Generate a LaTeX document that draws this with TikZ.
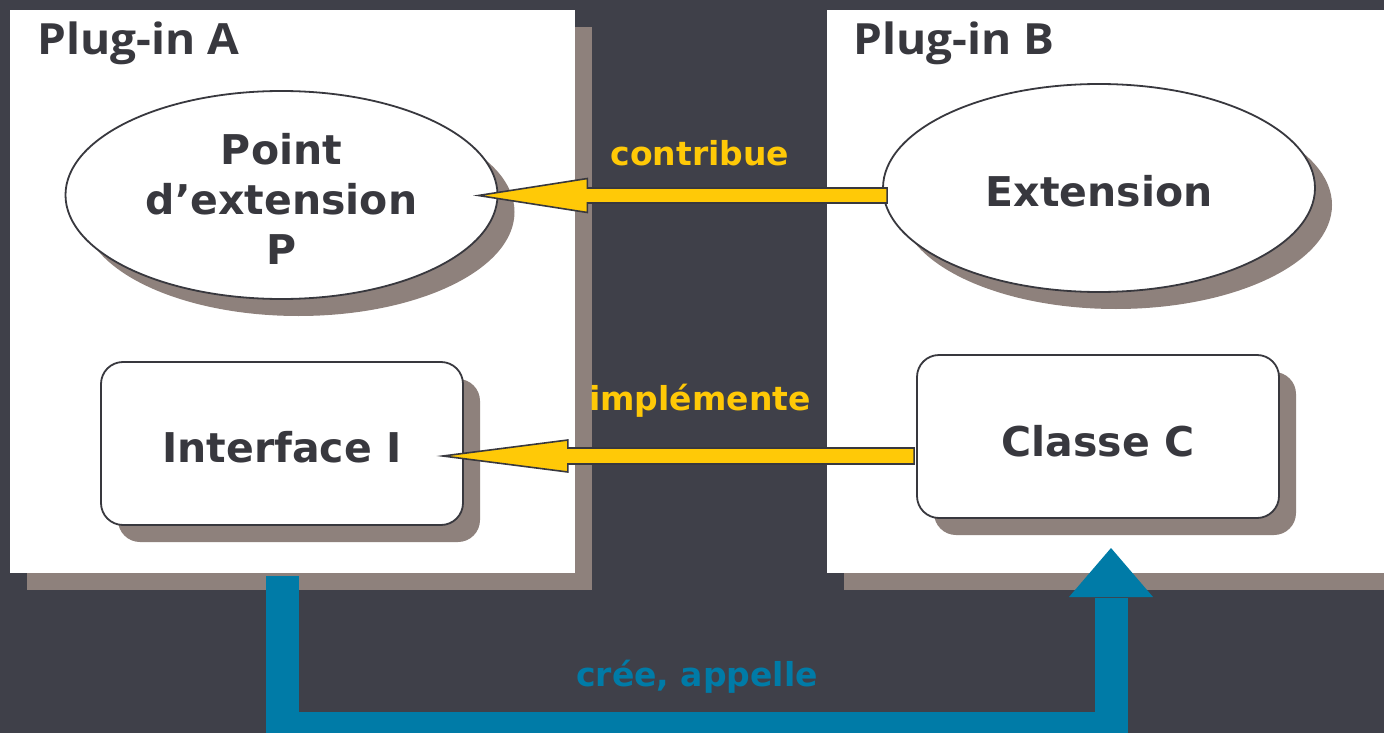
\documentclass[tikz,border=0pt]{standalone}
\usepackage{fontspec}
\setmainfont{DejaVu Sans}
\newfontfamily\titlefont[FakeStretch=1.07]{Open Sans}
\usetikzlibrary{calc,shapes.geometric,shadows}

\definecolor{bg}{HTML}{3F4049}
\definecolor{shade}{HTML}{8E817C}
\definecolor{ink}{HTML}{38383E}
\definecolor{gold}{HTML}{FFC907}
\definecolor{petrol}{HTML}{007BA7}

\tikzset{
  offshadow/.style={drop shadow={shadow xshift=17pt,shadow yshift=-17pt,fill=shade,opacity=1}},
  panel/.style={rectangle,fill=white,inner sep=0pt,offshadow},
  bubble/.style={ellipse,draw=ink,line width=1.8pt,fill=white,inner sep=0pt,
    minimum width=432pt,offshadow},
  card/.style={rectangle,rounded corners=22pt,draw=ink,line width=1.8pt,fill=white,
    minimum width=362pt,minimum height=163pt,offshadow},
  bigtext/.style={font=\fontsize{41}{50}\selectfont\bfseries,text=ink,align=center},
  titletext/.style={font=\titlefont\fontsize{43}{50}\selectfont\bfseries,text=ink,anchor=base west,inner sep=0pt},
  linktext/.style={font=\fontsize{33}{40}\selectfont\bfseries,anchor=base,inner sep=0pt},
  fatarrow/.style={fill=gold,draw=ink,line width=1.6pt,line join=miter},
  callpath/.style={draw=petrol,line width=33pt,line join=miter}
}

\begin{document}
\begin{tikzpicture}[x=1pt,y=-1pt]
\useasboundingbox (0,0) rectangle (1384,733);
\fill[bg] (0,0) rectangle (1384,733);

% the two plug-in panels
\node[panel,minimum width=565pt,minimum height=563pt] (plugA) at (292.5,291.5) {};
\node[panel,minimum width=600pt,minimum height=563pt,anchor=north west] (plugB) at (827,10) {};
\node[titletext] (titleA) at (37,55) {Plug-in A};
\node[titletext] (titleB) at (853,55) {Plug-in B};

% contents of plug-in A
\node[bubble,minimum height=208pt] (pte) at (281.5,195) {};
\node[bigtext] (ptetext) at (281.5,199) {Point\\d’extension\\P};
\node[card] (iface) at (282,443.5) {};
\node[bigtext] (ifacetext) at (282,447) {Interface I};

% contents of plug-in B
\node[bubble,minimum height=208pt] (ext) at (1099,188) {};
\node[bigtext] (exttext) at (1099,191) {Extension};
\node[card] (cls) at (1098,436.5) {};
\node[bigtext] (clstext) at (1098,441) {Classe C};

% arrow ends
\coordinate (contribFrom) at ($(ext.west)+(5,7.5)$);
\coordinate (contribTo) at ($(pte.east)+(-20,0.5)$);
\coordinate (implFrom) at ($(cls.west)+(-2,19.5)$);
\coordinate (implTo) at ($(iface.east)+(-21,12.5)$);

% contribue
\draw[fatarrow] ($(contribFrom)+(0,-7.5)$) -- ($(contribTo)+(109,-7.5)$)
  -- ($(contribTo)+(109,-17)$) -- (contribTo) -- ($(contribTo)+(109,17)$)
  -- ($(contribTo)+(109,7.5)$) -- ($(contribFrom)+(0,7.5)$) -- cycle;
\node[linktext,text=gold] (lblContrib) at (700,165) {contribue};

% implemente
\draw[fatarrow] ($(implFrom)+(0,-8)$) -- ($(implTo)+(125,-8)$)
  -- ($(implTo)+(125,-16)$) -- (implTo) -- ($(implTo)+(125,16)$)
  -- ($(implTo)+(125,8)$) -- ($(implFrom)+(0,8)$) -- cycle;
\node[linktext,text=gold] (lblImpl) at (700,410) {implémente};

% cree, appelle
\coordinate (callFrom) at ($(plugA.south)+(-10,3)$);
\coordinate (callTip) at (1111,548);
\draw[callpath] (callFrom) |- ($(callTip)+(0,180)$) -- ($(callTip)+(0,50)$);
\fill[petrol] ($(callTip)+(-42,49)$) -- (callTip) -- ($(callTip)+(42,49)$) -- cycle;
\node[linktext,text=petrol] (lblCall) at (697,686) {crée, appelle};
\end{tikzpicture}
\end{document}
